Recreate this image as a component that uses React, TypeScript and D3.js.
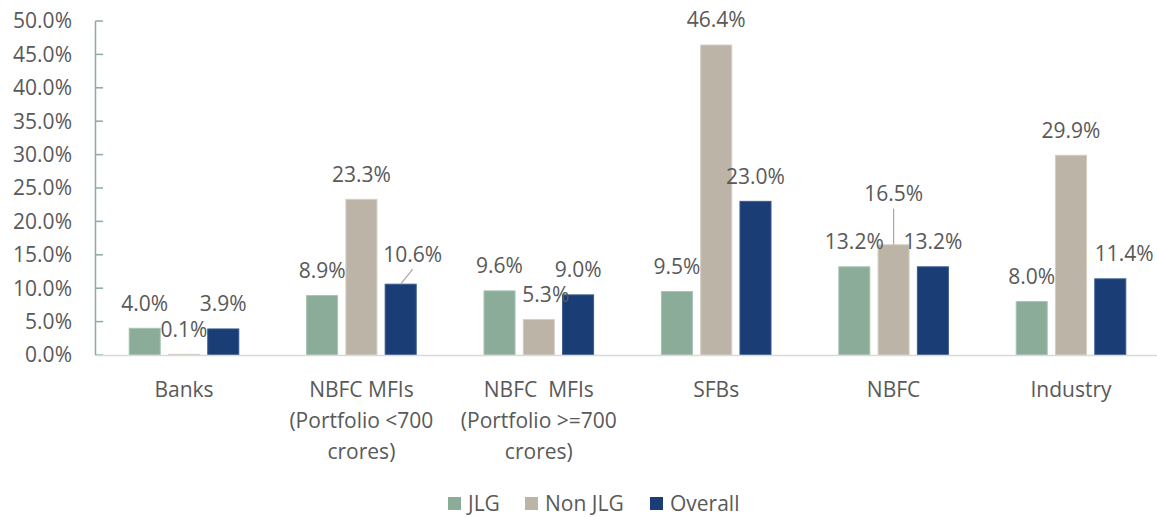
import React from "react";
import * as d3 from "d3";

// categories (x axis), multi-line labels
const categories = ["Banks", "NBFC MFIs <700", "NBFC MFIs >=700", "SFBs", "NBFC", "Industry"];
const categoryLines = [
  ["Banks"],
  ["NBFC MFIs", "(Portfolio <700", "crores)"],
  ["NBFC  MFIs", "(Portfolio >=700", "crores)"],
  ["SFBs"],
  ["NBFC"],
  ["Industry"],
];

const seriesNames = ["JLG", "Non JLG", "Overall"];
const jlg = [4.0, 8.9, 9.6, 9.5, 13.2, 8.0];
const nonJlg = [0.1, 23.3, 5.3, 46.4, 16.5, 29.9];
const overall = [3.9, 10.6, 9.0, 23.0, 13.2, 11.4];
const yTicks = [0, 5, 10, 15, 20, 25, 30, 35, 40, 45, 50];

const colors = ["#8aac99", "#bcb4a6", "#1b3d75"];
const strokes = ["#a9c4b4", "#d3cdc2", "#3a5a8e"];

const W = 1157;
const H = 517;
const FONT = "'Open Sans', 'Noto Sans', sans-serif";
const TEXT = "#595959";

export default function App() {
  const series = [jlg, nonJlg, overall];

  const x = d3.scaleBand<string>().domain(categories).range([95.3, 1159.7]).padding(0);
  const xs = d3.scaleBand<string>().domain(seriesNames).range([-54.8, 54.8]).paddingInner(0.21);
  const y = d3.scaleLinear().domain([0, 50]).range([355, 21]);

  // label nudges for the labels moved by hand in the original
  const nudge: Record<string, { dx: number; dy: number; leader?: boolean }> = {
    "2-1": { dx: 12, dy: -5, leader: true },
    "1-2": { dx: 7, dy: 0 },
    "1-4": { dx: 0, dy: -26, leader: true },
    "2-5": { dx: 14, dy: 0 },
  };

  const cx = (ci: number) => (x(categories[ci]) ?? 0) + x.bandwidth() / 2;

  return (
    <svg width={W} height={H} style={{ position: "absolute", left: 0, top: 0, background: "#fff" }}>
      {/* y axis */}
      <line x1={95.5} x2={95.5} y1={y(50)} y2={y(0)} stroke="#8aac99" strokeWidth={1.5} />
      {yTicks.map((t) => (
        <g key={t}>
          <line x1={95.5} x2={103} y1={y(t)} y2={y(t)} stroke="#8aac99" strokeWidth={1.5} />
          <text x={72} y={y(t)} dy="0.35em" textAnchor="end" fontFamily={FONT} fontSize={21} fill={TEXT}>
            {t.toFixed(1)}%
          </text>
        </g>
      ))}

      {/* bars */}
      {series.map((vals, si) =>
        vals.map((v, ci) => {
          const bx = cx(ci) + (xs(seriesNames[si]) ?? 0);
          return (
            <rect
              key={`${si}-${ci}`}
              x={bx}
              y={y(v)}
              width={xs.bandwidth()}
              height={y(0) - y(v)}
              fill={colors[si]}
              stroke={strokes[si]}
              strokeWidth={1}
            />
          );
        })
      )}

      {/* baseline */}
      <line x1={96} x2={W} y1={y(0) + 0.5} y2={y(0) + 0.5} stroke="#d9d9d9" strokeWidth={1.5} />

      {/* data labels */}
      {series.map((vals, si) =>
        vals.map((v, ci) => {
          const bxc = cx(ci) + (xs(seriesNames[si]) ?? 0) + xs.bandwidth() / 2;
          const n = nudge[`${si}-${ci}`] || { dx: 0, dy: 0 };
          const lx = bxc + n.dx;
          const ly = y(v) - 25 + n.dy;
          return (
            <g key={`l${si}-${ci}`}>
              {n.leader && (
                <line
                  x1={bxc}
                  y1={y(v)}
                  x2={n.dx ? lx : bxc}
                  y2={ly + 15}
                  stroke="#a6a6a6"
                  strokeWidth={1.2}
                />
              )}
              <text x={lx} y={ly} dy="0.35em" textAnchor="middle" fontFamily={FONT} fontSize={21} fill={TEXT}>
                {v.toFixed(1)}%
              </text>
            </g>
          );
        })
      )}

      {/* category labels */}
      {categoryLines.map((lines, ci) => (
        <text key={ci} x={cx(ci)} y={390} textAnchor="middle" fontFamily={FONT} fontSize={21} fill={TEXT}>
          {lines.map((l, li) => (
            <tspan key={li} x={cx(ci)} dy={li === 0 ? "0.35em" : 31} style={{ whiteSpace: "pre" }}>
              {l}
            </tspan>
          ))}
        </text>
      ))}

      {/* legend */}
      {[448, 525, 650].map((lx, i) => (
        <g key={i}>
          <rect x={lx} y={497} width={13} height={13} fill={colors[i]} />
          <text x={lx + 20} y={504} dy="0.35em" fontFamily={FONT} fontSize={21} fill={TEXT}>
            {seriesNames[i]}
          </text>
        </g>
      ))}
    </svg>
  );
}
